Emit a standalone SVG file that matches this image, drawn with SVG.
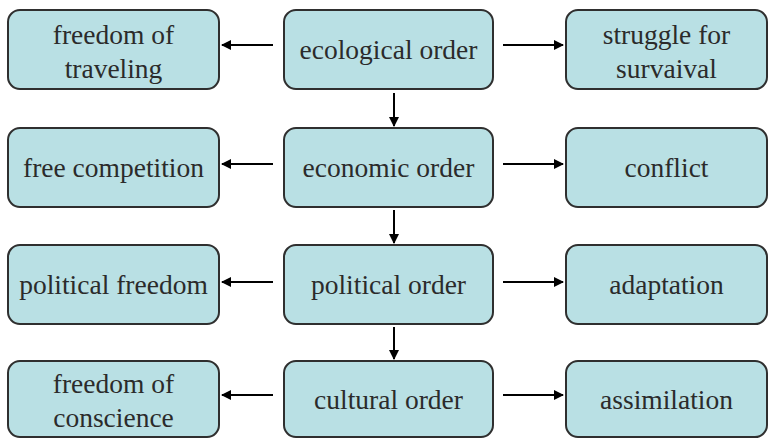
<svg xmlns="http://www.w3.org/2000/svg" width="775" height="439" viewBox="0 0 775 439">
<style>
.box{fill:#b9e0e4;stroke:#2f2f2f;stroke-width:2}
.t{font-family:'Liberation Serif','Times New Roman',Times,'DejaVu Serif',serif;font-size:27.5px;fill:#2b2b2b;text-anchor:middle}
.c{stroke:#000;stroke-width:2;fill:none;marker-end:url(#ah)}
</style>
<defs>
<marker id="ah" markerWidth="10" markerHeight="10" refX="9" refY="5" orient="auto" markerUnits="userSpaceOnUse" viewBox="0 0 10 10">
<path d="M0,0 L10,5 L0,10 Z" fill="#000"/>
</marker>
</defs>
<rect width="775" height="439" fill="#fff"/>
<g id="connectors">
<line class="c" x1="273" y1="45" x2="222" y2="45"/>
<line class="c" x1="503" y1="45" x2="563" y2="45"/>
<line class="c" x1="394" y1="93" x2="394" y2="126"/>
<line class="c" x1="273" y1="164" x2="222" y2="164"/>
<line class="c" x1="503" y1="164" x2="563" y2="164"/>
<line class="c" x1="394" y1="210" x2="394" y2="243"/>
<line class="c" x1="273" y1="282" x2="222" y2="282"/>
<line class="c" x1="503" y1="282" x2="563" y2="282"/>
<line class="c" x1="394" y1="327" x2="394" y2="359"/>
<line class="c" x1="273" y1="395" x2="222" y2="395"/>
<line class="c" x1="503" y1="395" x2="563" y2="395"/>
</g>
<g id="n1"><rect class="box" x="8" y="10" width="211" height="79" rx="12"/><text class="t" x="113.5" y="44">freedom of</text><text class="t" x="113.5" y="78">traveling</text></g>
<g id="n2"><rect class="box" x="284" y="10" width="209" height="79" rx="12"/><text class="t" x="388.5" y="59">ecological order</text></g>
<g id="n3"><rect class="box" x="566" y="10" width="201" height="79" rx="12"/><text class="t" x="666.5" y="44">struggle for</text><text class="t" x="666.5" y="78">survaival</text></g>
<g id="n4"><rect class="box" x="8" y="128" width="211" height="79" rx="12"/><text class="t" x="113.5" y="177">free competition</text></g>
<g id="n5"><rect class="box" x="284" y="128" width="209" height="79" rx="12"/><text class="t" x="388.5" y="177">economic order</text></g>
<g id="n6"><rect class="box" x="566" y="128" width="201" height="79" rx="12"/><text class="t" x="666.5" y="177">conflict</text></g>
<g id="n7"><rect class="box" x="8" y="245" width="211" height="79" rx="12"/><text class="t" x="113.5" y="294">political freedom</text></g>
<g id="n8"><rect class="box" x="284" y="245" width="209" height="79" rx="12"/><text class="t" x="388.5" y="294">political order</text></g>
<g id="n9"><rect class="box" x="566" y="245" width="201" height="79" rx="12"/><text class="t" x="666.5" y="294">adaptation</text></g>
<g id="n10"><rect class="box" x="8" y="361" width="211" height="76" rx="12"/><text class="t" x="113.5" y="393">freedom of</text><text class="t" x="113.5" y="427">conscience</text></g>
<g id="n11"><rect class="box" x="284" y="361" width="209" height="76" rx="12"/><text class="t" x="388.5" y="409">cultural order</text></g>
<g id="n12"><rect class="box" x="566" y="361" width="201" height="76" rx="12"/><text class="t" x="666.5" y="409">assimilation</text></g>
</svg>
